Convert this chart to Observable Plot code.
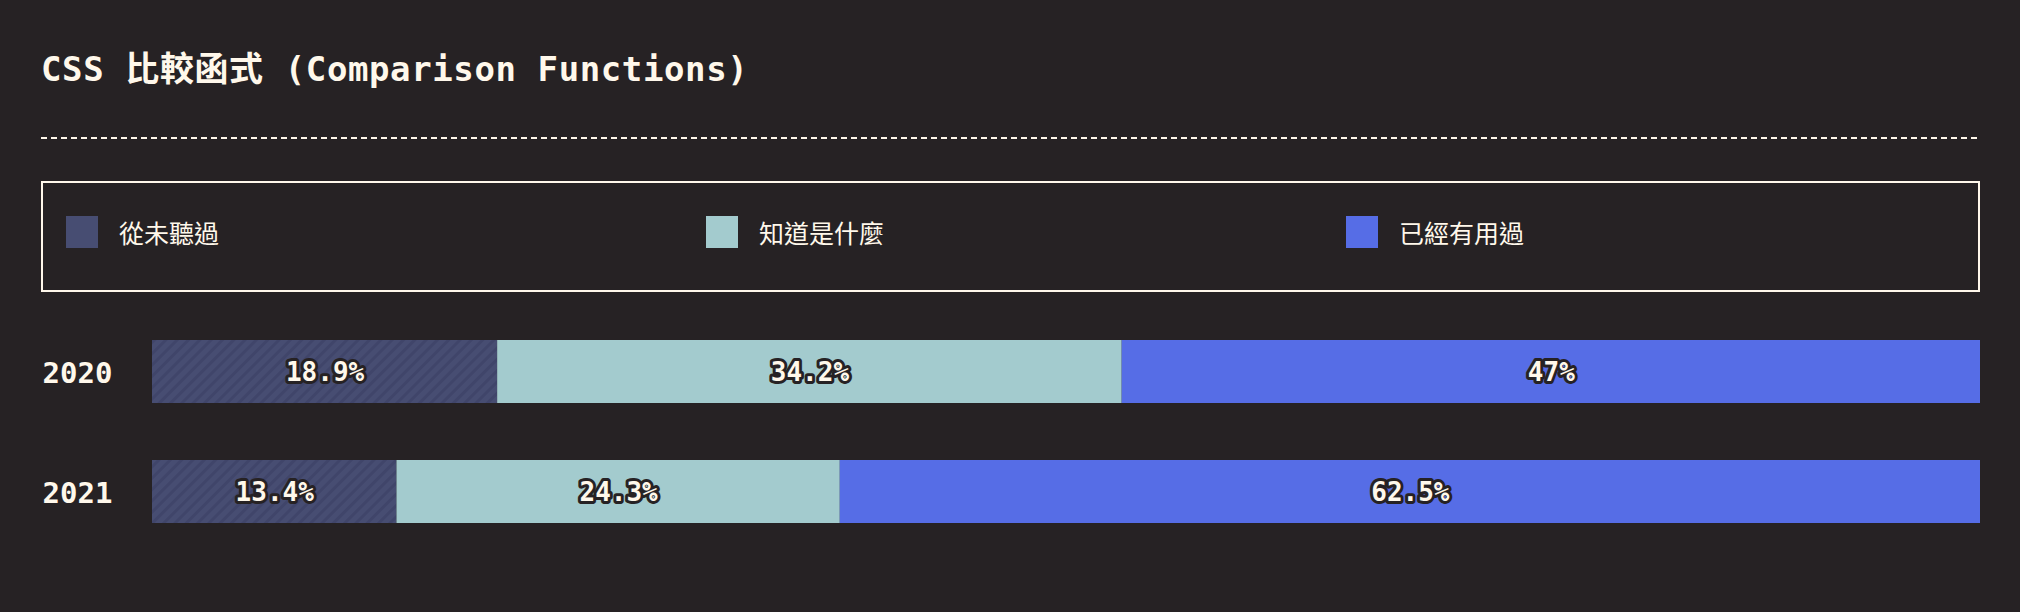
<!DOCTYPE html>
<html>
<head>
<meta charset="utf-8">
<script src="https://cdn.jsdelivr.net/npm/d3@7"></script>
<script src="https://cdn.jsdelivr.net/npm/@observablehq/plot@0.6"></script>
<style>
  html, body { margin: 0; padding: 0; background: #262224; }
  body { width: 2020px; height: 612px; position: relative; overflow: hidden; color: #fff8eb; }
  #title { position: absolute; left: 41px; top: 52px; font-family: "DejaVu Sans Mono", "Noto Sans CJK TC", monospace; font-weight: bold; font-size: 34px; line-height: 34px; letter-spacing: 0.6px; white-space: nowrap; }
  #rule { position: absolute; left: 41px; top: 136px; }
  #legend { position: absolute; left: 41px; top: 181px; width: 1939px; height: 111px; box-sizing: border-box; border: 2px solid #fff8eb; }
  .item { position: absolute; top: 33px; height: 32px; display: flex; align-items: center; font-family: "Noto Sans CJK TC", sans-serif; font-size: 25px; }
  .sw { width: 32px; height: 32px; margin-right: 21px; }
  #chart { position: absolute; left: 0; top: 300px; }
</style>
</head>
<body>
<div id="title"></div>
<svg id="rule" width="1939" height="4"><line x1="0" x2="1939" y1="2" y2="2" stroke="#fff8eb" stroke-width="2" stroke-dasharray="6 4"/></svg>
<div id="legend"></div>
<div id="chart"></div>
<script>
const title = "CSS 比較函式 (Comparison Functions)";
const years = ["2020", "2021"];
const categories = ["從未聽過", "知道是什麼", "已經有用過"];
const values2020 = [18.9, 34.2, 47];
const values2021 = [13.4, 24.3, 62.5];
const legendColors = ["#474d72", "#a3cbce", "#566de6"];
const barFills = ["url(#hatch)", "#a3cbce", "#566de6"];

document.getElementById("title").textContent = title;

const legend = document.getElementById("legend");
categories.forEach((c, i) => {
  const item = document.createElement("div");
  item.className = "item";
  item.style.left = (23 + i * 640) + "px";
  const sw = document.createElement("div");
  sw.className = "sw";
  sw.style.background = legendColors[i];
  const t = document.createElement("span");
  t.textContent = c;
  item.appendChild(sw);
  item.appendChild(t);
  legend.appendChild(item);
});

const series = [values2020, values2021];
const data = years.flatMap((y, i) => categories.map((c, j) => ({year: y, category: c, value: series[i][j]})));

const chart = Plot.plot({
  width: 2020,
  height: 312,
  marginLeft: 152,
  marginRight: 40,
  marginTop: 40,
  marginBottom: 89,
  style: {background: "transparent", color: "#fff8eb", fontFamily: "'DejaVu Sans Mono', monospace"},
  x: {axis: null, domain: [0, 1]},
  y: {domain: years, paddingInner: 0.475, paddingOuter: 0, label: null},
  color: {domain: categories, range: barFills},
  marks: [
    Plot.barX(data, Plot.stackX({offset: "normalize", x: "value", y: "year", fill: "category", order: categories})),
    Plot.text(data, Plot.stackX({offset: "normalize", x: "value", y: "year", z: "category", order: categories,
      text: d => d.value + "%", fill: "#fff8eb", stroke: "#262224", strokeWidth: 6, strokeLinejoin: "round",
      fontSize: 26, fontWeight: "bold", dy: 1})),
    Plot.axisY({tickSize: 0, tickPadding: 110, textAnchor: "start", fontSize: 29, fontWeight: "bold", label: null, fill: "#fff8eb", dy: 2})
  ]
});

const ns = "http://www.w3.org/2000/svg";
const defs = document.createElementNS(ns, "defs");
defs.innerHTML = '<pattern id="hatch" patternUnits="userSpaceOnUse" width="8" height="8" patternTransform="rotate(45)">' +
  '<rect width="8" height="8" fill="#474d72"/><rect width="3" height="8" fill="#40456a"/></pattern>';
chart.insertBefore(defs, chart.firstChild);
document.getElementById("chart").appendChild(chart);
</script>
</body>
</html>
